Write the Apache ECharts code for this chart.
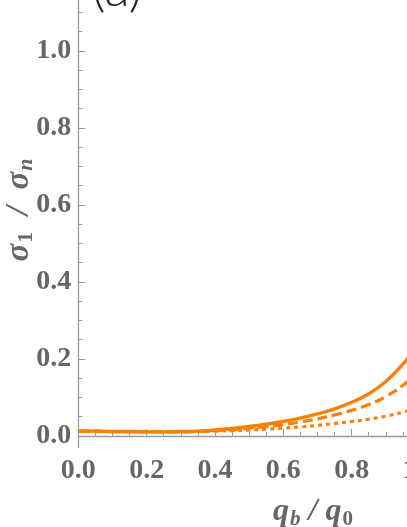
<!DOCTYPE html>
<html>
<head>
<meta charset="utf-8">
<script src="https://cdn.jsdelivr.net/npm/echarts@6/dist/echarts.min.js"></script>
<style>
html,body{margin:0;padding:0;background:#fff;}
#c{width:407px;height:527px;}
</style>
</head>
<body>
<div id="c"></div>
<script>
var xValues = [0, 0.05, 0.1, 0.15, 0.2, 0.25, 0.3, 0.35, 0.4, 0.45, 0.5, 0.55, 0.6, 0.65, 0.7, 0.75, 0.8, 0.85, 0.9, 0.95, 1.0];
var solidValues  = [0.012, 0.012, 0.011, 0.011, 0.010, 0.010, 0.011, 0.012, 0.015, 0.019, 0.024, 0.030, 0.037, 0.046, 0.057, 0.070, 0.087, 0.109, 0.141, 0.186, 0.246];
var dashedValues = [0.012, 0.012, 0.011, 0.011, 0.010, 0.010, 0.010, 0.011, 0.013, 0.016, 0.020, 0.024, 0.029, 0.036, 0.044, 0.054, 0.066, 0.081, 0.102, 0.131, 0.170];
var dottedValues = [0.012, 0.012, 0.011, 0.011, 0.010, 0.010, 0.010, 0.011, 0.012, 0.013, 0.015, 0.017, 0.020, 0.023, 0.027, 0.032, 0.037, 0.043, 0.051, 0.061, 0.072];
var yTickValues = [0, 0.2, 0.4, 0.6, 0.8, 1.0];
var yMinorTickValues = [0.05, 0.1, 0.15, 0.25, 0.3, 0.35, 0.45, 0.5, 0.55, 0.65, 0.7, 0.75, 0.85, 0.9, 0.95, 1.05, 1.1];

function pairs(ys) { return xValues.map(function (x, i) { return [x, ys[i]]; }); }

var ORANGE = '#ff8000';
var AXIS = '#9a9a9a';
var LABEL = '#666666';
var SERIF = '"Liberation Serif", "DejaVu Serif", serif';
var labelStyle = { color: LABEL, fontFamily: SERIF, fontWeight: 'bold', fontSize: 28 };

function titleRich(big, small) {
  return {
    s: { fontFamily: SERIF, fontStyle: 'italic', fontWeight: 'bold', fontSize: big, fill: LABEL, lineHeight: big + 4 },
    sub: { fontFamily: SERIF, fontWeight: 'bold', fontSize: small, fill: LABEL, verticalAlign: 'bottom', lineHeight: big + 4, padding: [9, 0, 0, 1] },
    subi: { fontFamily: SERIF, fontStyle: 'italic', fontWeight: 'bold', fontSize: small, fill: LABEL, verticalAlign: 'bottom', lineHeight: big + 4, padding: [9, 0, 0, 1] }
  };
}

var chart = echarts.init(document.getElementById('c'));
chart.setOption({
  animation: false,
  backgroundColor: '#fff',
  grid: { left: 78.3, right: -13, top: 0, bottom: 79.3, containLabel: false, outerBoundsMode: 'none' },
  xAxis: {
    type: 'value', min: 0, max: 1, interval: 0.2,
    axisLine: { show: true, lineStyle: { color: AXIS, width: 1.3 } },
    axisTick: { show: true, inside: true, length: 7, lineStyle: { color: AXIS } },
    minorTick: { show: true, splitNumber: 4, length: 4, lineStyle: { color: AXIS } },
    splitLine: { show: false },
    axisLabel: Object.assign({ margin: 9, hideOverlap: false, showMaxLabel: true, formatter: function (v) { return v.toFixed(1); } }, labelStyle)
  },
  yAxis: [{
    type: 'value', min: -0.031, max: 1.132,
    axisLine: { show: true, onZero: false, lineStyle: { color: AXIS, width: 1.3 } },
    axisTick: { show: true, inside: true, length: 7, customValues: yTickValues, lineStyle: { color: AXIS } },
    splitLine: { show: false },
    axisLabel: Object.assign({ margin: 7, customValues: yTickValues, formatter: function (v) { return v.toFixed(1); } }, labelStyle)
  }, {
    type: 'value', min: -0.031, max: 1.132, position: 'left',
    axisLine: { show: false },
    axisTick: { show: true, inside: true, length: 4, customValues: yMinorTickValues, lineStyle: { color: AXIS } },
    splitLine: { show: false },
    axisLabel: { show: false }
  }],
  series: [
    { type: 'line', data: pairs(dottedValues), smooth: true, showSymbol: false, yAxisIndex: 0,
      lineStyle: { color: ORANGE, width: 3.2, type: [4, 4] } },
    { type: 'line', data: pairs(dashedValues), smooth: true, showSymbol: false, yAxisIndex: 0,
      lineStyle: { color: ORANGE, width: 3.2, type: [10, 5] } },
    { type: 'line', data: pairs(solidValues), smooth: true, showSymbol: false, yAxisIndex: 0,
      lineStyle: { color: ORANGE, width: 3.4, type: 'solid' } }
  ],
  graphic: [
    { type: 'text', left: 92, top: -37,
      style: { text: '(a)', fill: '#222', fontFamily: 'Lato, "DejaVu Sans", sans-serif', fontSize: 52, fontWeight: 300 } },
    { type: 'text', x: 19, y: 210, rotation: Math.PI / 2,
      style: { text: '{s|σ}{sub|1}{s|  /  σ}{subi|n}', align: 'center', verticalAlign: 'middle', rich: titleRich(33, 22) } },
    { type: 'text', x: 313, y: 512,
      style: { text: '{s|q}{subi|b}{s| / q}{sub|0}', align: 'center', verticalAlign: 'middle', rich: titleRich(32, 21) } }
  ]
});
</script>
</body>
</html>
